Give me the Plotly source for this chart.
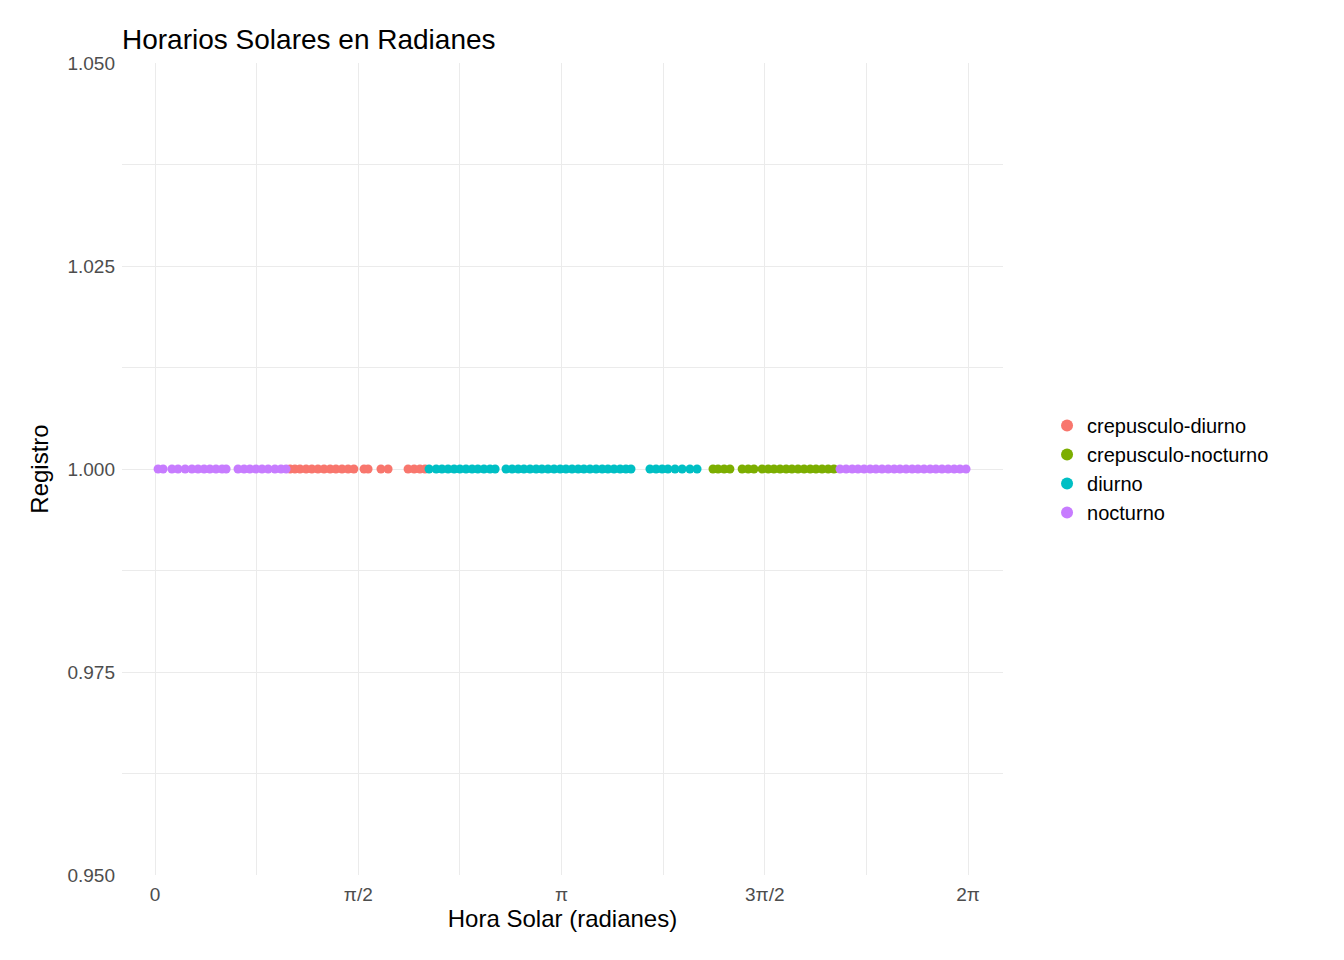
import math
import plotly.graph_objects as go

# solar hour readings (0-24 h) per category
crepusculo_diurno = [3.99, 4.13, 4.28, 4.46, 4.63, 4.81, 4.99, 5.17, 5.34, 5.52, 5.70, 5.87,
                     6.17, 6.29, 6.67, 6.88, 7.47, 7.65, 7.82, 7.97]
crepusculo_nocturno = [16.47, 16.62, 16.80, 16.97, 17.33, 17.51, 17.68, 17.92, 18.10, 18.27,
                       18.45, 18.63, 18.80, 18.98, 19.16, 19.34, 19.51, 19.69, 19.87, 20.04]
diurno = [8.09, 8.30, 8.47, 8.65, 8.83, 9.00, 9.18, 9.36, 9.53, 9.71, 9.89, 10.04,
          10.36, 10.54, 10.72, 10.89, 11.07, 11.25, 11.42, 11.60, 11.78, 11.96, 12.13,
          12.31, 12.49, 12.66, 12.84, 13.02, 13.20, 13.37, 13.55, 13.73, 13.90, 14.05,
          14.61, 14.79, 14.97, 15.14, 15.35, 15.56, 15.79, 16.00]
nocturno = [0.09, 0.24, 0.50, 0.68, 0.89, 1.09, 1.27, 1.45, 1.62, 1.80, 1.98, 2.10,
            2.45, 2.63, 2.80, 2.98, 3.16, 3.34, 3.54, 3.72, 3.87,
            20.22, 20.40, 20.58, 20.75, 20.93, 21.11, 21.28, 21.46, 21.64, 21.82, 21.99,
            22.17, 22.35, 22.52, 22.70, 22.88, 23.05, 23.23, 23.41, 23.59, 23.76, 23.94]

series = [
    ("crepusculo-diurno", crepusculo_diurno, "#F8766D"),
    ("crepusculo-nocturno", crepusculo_nocturno, "#7CAE00"),
    ("diurno", diurno, "#00BFC4"),
    ("nocturno", nocturno, "#C77CFF"),
]

fig = go.Figure()
for name, hours, color in series:
    rad = [h * 2 * math.pi / 24 for h in hours]
    fig.add_trace(go.Scatter(x=rad, y=[1.0] * len(rad), mode="markers", name=name,
                             marker={"color": color, "size": 9}))

xt = [i * math.pi / 4 for i in range(9)]
xl = ["0", "", "π/2", "", "π", "", "3π/2", "", "2π"]
yt = [0.95 + i * 0.0125 for i in range(9)]
yl = ["0.950", "", "0.975", "", "1.000", "", "1.025", "", "1.050"]

fig.update_layout(
    width=1344, height=960,
    paper_bgcolor="white", plot_bgcolor="white",
    font={"family": "Liberation Sans, Arial", "color": "black"},
    title={"text": "Horarios Solares en Radianes", "x": 114 / 1344, "xanchor": "left",
           "y": 0.978, "font": {"size": 28}},
    margin={"l": 114, "r": 349, "t": 55, "b": 93, "autoexpand": False},
    xaxis={"range": [-0.255, 6.553], "tickvals": xt, "ticktext": xl,
           "showgrid": True, "gridcolor": "#EBEBEB", "zeroline": False,
           "ticklabelstandoff": 6,
           "tickfont": {"size": 19, "color": "#4D4D4D"},
           "title": {"text": "Hora Solar (radianes)", "font": {"size": 24}, "standoff": 6}},
    yaxis={"range": [0.95, 1.05], "tickvals": yt, "ticktext": yl,
           "showgrid": True, "gridcolor": "#EBEBEB", "zeroline": False,
           "ticklabelstandoff": 6,
           "tickfont": {"size": 19, "color": "#4D4D4D"},
           "title": {"text": "Registro", "font": {"size": 24}, "standoff": 12}},
    legend={"x": 1.05, "y": 0.5, "yanchor": "middle", "font": {"size": 20},
            "itemsizing": "constant", "tracegroupgap": 18},
)

fig.write_html("out.html")
